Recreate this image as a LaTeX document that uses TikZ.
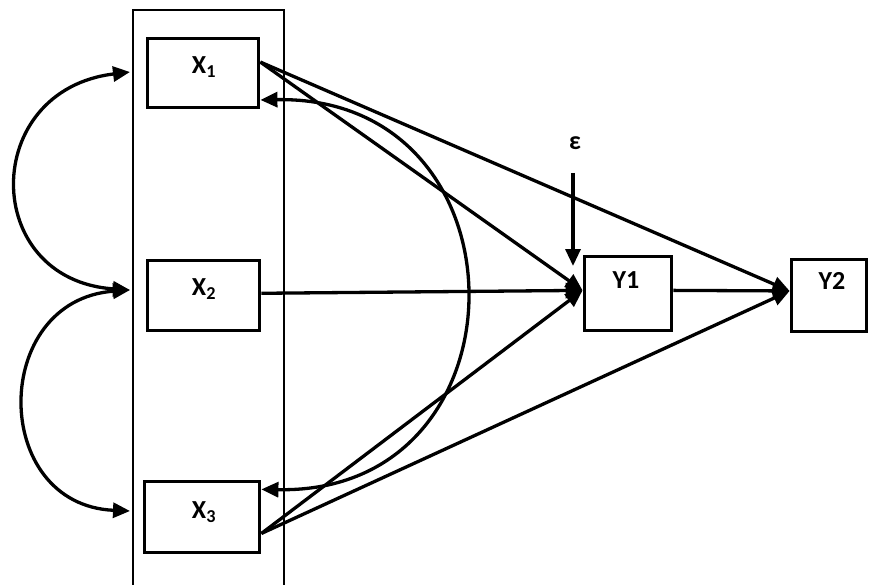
\documentclass[tikz,border=0pt]{standalone}
\usepackage{fontspec}
\setmainfont{Carlito}
\usetikzlibrary{arrows.meta,calc}
\begin{document}
\begin{tikzpicture}[x=1pt,y=-1pt,
  box/.style={draw,line width=3.8pt,inner sep=0pt},
  lbl/.style={font=\fontsize{26}{30}\selectfont\bfseries,inner sep=0pt},
  conn/.style={line width=3.3pt,-{Triangle[length=17pt,width=15pt]}},
  dconn/.style={line width=3.3pt,{Triangle[length=17pt,width=15pt]}-{Triangle[length=17pt,width=15pt]}},
  frame/.style={line width=1.9pt}]
\useasboundingbox (0,0) rectangle (869,585);
% outer frame
\draw[frame] (133,590) -- (133,10) -- (284,10) -- (284,590);
% boxes
\node[box,minimum width=111pt,minimum height=69pt] (X1) at (203,73) {};
\node[box,minimum width=112pt,minimum height=70pt] (X2) at (203.5,295.5) {};
\node[box,minimum width=115pt,minimum height=71pt] (X3) at (202,517) {};
\node[box,minimum width=87pt,minimum height=74pt] (Y1) at (628,293.5) {};
\node[box,minimum width=75pt,minimum height=72pt] (Y2) at (829,295.5) {};
% labels
\node[lbl] (tX1) at (204,67) {X\textsubscript{1}};
\node[lbl] (tX2) at (204,289) {X\textsubscript{2}};
\node[lbl] (tX3) at (204,512) {X\textsubscript{3}};
\node[lbl] (tY1) at (626,280) {Y1};
\node[lbl] (tY2) at (832,281) {Y2};
\node[lbl] (eps) at (575,143) {ε};
% coordinates
\coordinate (X1a) at ($(X1.north east)!0.35!(X1.south east)$);
\coordinate (X1b) at ($(X1.north east)!0.87!(X1.south east)$);
\coordinate (X2a) at ($(X2.north east)!0.47!(X2.south east)$);
\coordinate (X3a) at ($(X3.north east)!0.13!(X3.south east)$);
\coordinate (X3b) at ($(X3.north east)!0.72!(X3.south east)$);
\coordinate (Y1in) at ($(Y1.north west)!0.46!(Y1.south west)$);
\coordinate (Y1out) at ($(Y1.north east)!0.46!(Y1.south east)$);
\coordinate (Y2in) at ($(Y2.north west)!0.44!(Y2.south west)$);
\coordinate (L1) at (130,72);
\coordinate (L2) at (130,290);
\coordinate (L3) at (130,511);
\coordinate (E1) at (573,173);
\coordinate (E2) at (573,266);
% connectors
\draw[conn] (X1a) -- (Y1in);
\draw[conn] (X1a) -- (Y2in);
\draw[conn] (X2a) -- (Y1in);
\draw[conn] (X3b) -- (Y1in);
\draw[conn] (X3b) -- (Y2in);
\draw[conn] (Y1out) -- (Y2in);
\draw[conn] (E1) -- (E2);
\draw[dconn] (X1b) .. controls (533,95) and (533,495) .. (X3a);
\draw[dconn] (L1) .. controls (-20,90) and (-20,280) .. (L2);
\draw[dconn] (L2) .. controls (-10,300) and (-10,505) .. (L3);
\end{tikzpicture}
\end{document}
